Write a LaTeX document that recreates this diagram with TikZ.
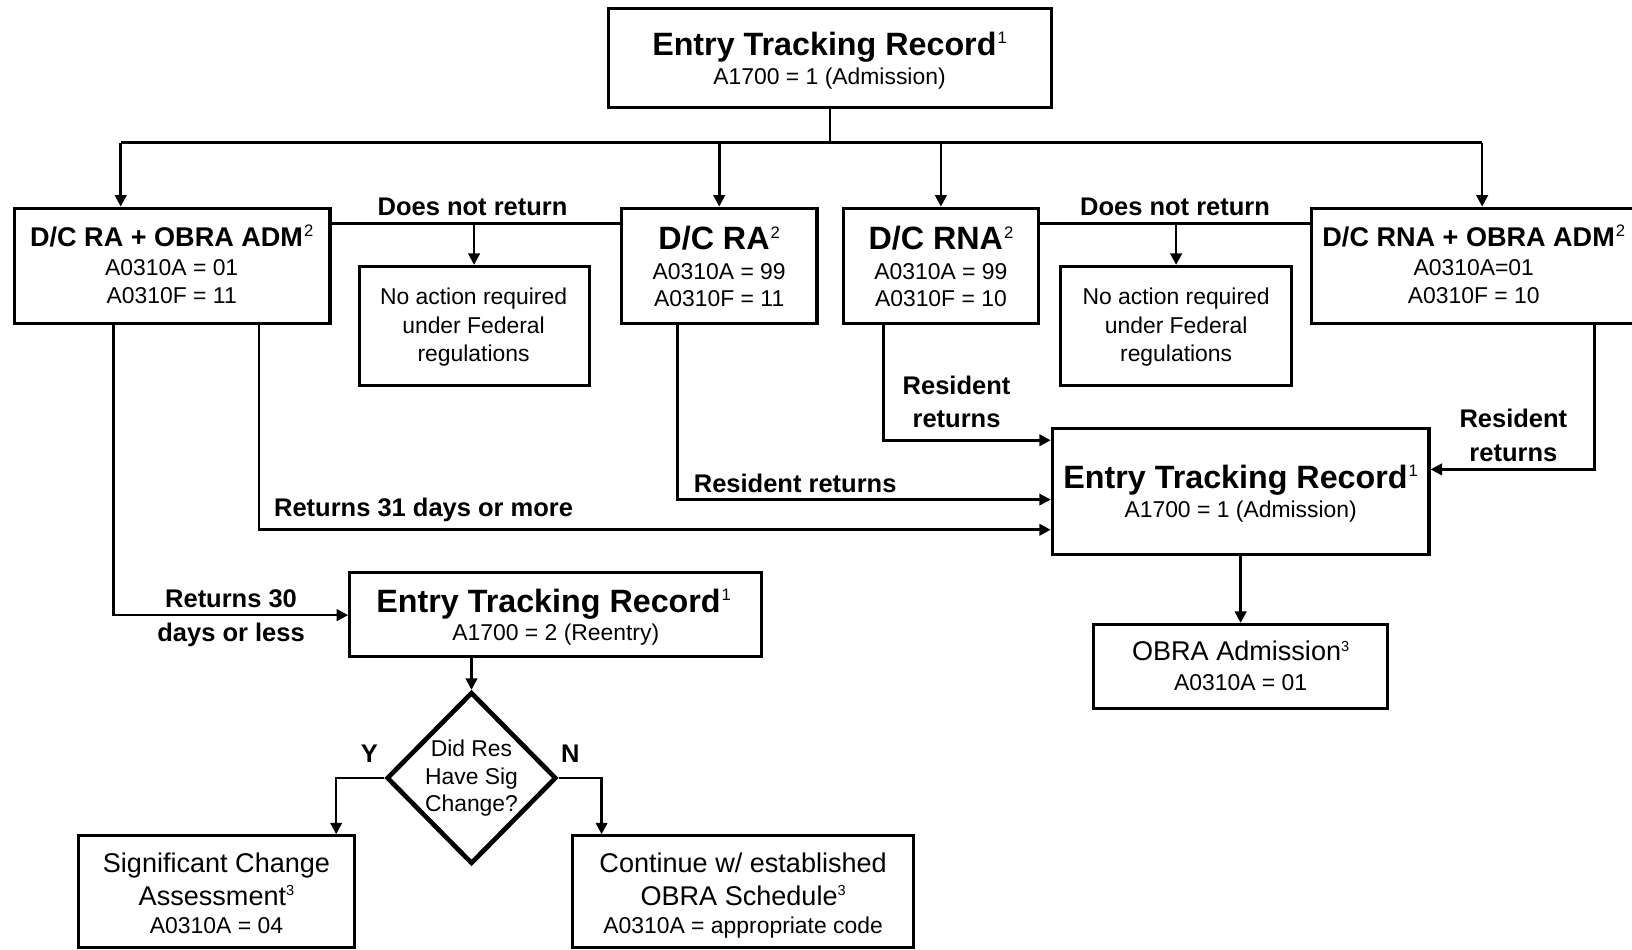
\documentclass[tikz,border=0pt]{standalone}
\usepackage{fontspec}
\setmainfont{Liberation Sans}
\usetikzlibrary{arrows.meta,shapes.geometric}
\newcommand\mysup[1]{\kern1pt\raisebox{0.36em}{\fontsize{16}{16}\selectfont\mdseries #1}}
\newcommand\mysupb[1]{\raisebox{0.36em}{\fontsize{14}{14}\selectfont\mdseries #1}}
\newcommand\fHa{\fontsize{31}{31}\selectfont\bfseries}
\newcommand\fHb{\fontsize{26}{26}\selectfont\bfseries}
\newcommand\fSm{\fontsize{22}{22}\selectfont}
\newcommand\fMd{\fontsize{22}{22}\selectfont}
\newcommand\fLg{\fontsize{26}{26}\selectfont}
\newcommand\fLab{\fontsize{24.5}{24.5}\selectfont\bfseries}
\begin{document}
\begin{tikzpicture}[x=1pt,y=-1pt,
  box/.style={draw, line width=3pt, inner sep=0pt, rectangle},
  txt/.style={anchor=base, inner sep=0pt, outer sep=0pt},
  conn/.style={line width=2.5pt},
  arr/.style={conn, -{Triangle[length=11pt,width=11pt]}}]
\useasboundingbox (0,0) rectangle (1568,912);
% boxes
\node[box, minimum width=425pt, minimum height=95pt] (T) at (797.5,55.5) {};
\node[box, minimum width=303pt, minimum height=111pt] (A) at (165.5,255.5) {};
\node[box, minimum width=188pt, minimum height=111pt] (B) at (691,255.5) {};
\node[box, minimum width=188pt, minimum height=111pt] (C) at (904,255.5) {};
\node[box, minimum width=314pt, minimum height=111pt] (D) at (1417,255.5) {};
\node[box, minimum width=221pt, minimum height=114pt] (N1) at (455.5,313) {};
\node[box, minimum width=222pt, minimum height=114pt] (N2) at (1130,313) {};
\node[box, minimum width=362pt, minimum height=121pt] (R) at (1192,472.5) {};
\node[box, minimum width=396pt, minimum height=81pt] (E) at (534,590.5) {};
\node[draw, diamond, line width=4.5pt, inner sep=0pt, minimum width=163pt, minimum height=165pt] (Dm) at (453,747.5) {};
\node[box, minimum width=266pt, minimum height=107pt] (S) at (208,856.5) {};
\node[box, minimum width=328pt, minimum height=107pt] (Cn) at (714,856.5) {};
\node[box, minimum width=282pt, minimum height=81pt] (O) at (1192,640.5) {};
% texts
\node[txt] (t1) at (797,53) {\fHa Entry Tracking Record\mysup{1}};
\node[txt] (t2) at (797,81.5) {\fSm A1700 = 1 (Admission)};
\node[txt] (a1) at (165,237) {\fHb D/C RA + OBRA ADM\mysup{2}};
\node[txt] (a2) at (165,264.5) {\fSm A0310A = 01};
\node[txt] (a3) at (165,291.5) {\fSm A0310F = 11};
\node[txt] (b1) at (691,240) {\fHa D/C RA\mysup{2}};
\node[txt] (b2) at (691,268.5) {\fSm A0310A = 99};
\node[txt] (b3) at (691,294.5) {\fSm A0310F = 11};
\node[txt] (c1) at (904,240) {\fHa D/C RNA\mysup{2}};
\node[txt] (c2) at (904,268.5) {\fSm A0310A = 99};
\node[txt] (c3) at (904,294.5) {\fSm A0310F = 10};
\node[txt] (d1) at (1416,237) {\fHb D/C RNA + OBRA ADM\mysup{2}};
\node[txt] (d2) at (1416,264.5) {\fSm A0310A=01};
\node[txt] (d3) at (1416,291.5) {\fSm A0310F = 10};
\node[txt] (n11) at (455,293) {\fMd No action required};
\node[txt] (n12) at (455,320) {\fMd under Federal};
\node[txt] (n13) at (455,347) {\fMd regulations};
\node[txt] (n21) at (1130,293) {\fMd No action required};
\node[txt] (n22) at (1130,320) {\fMd under Federal};
\node[txt] (n23) at (1130,347) {\fMd regulations};
\node[txt] (l1) at (454,207) {\fLab Does not return};
\node[txt] (l2) at (1129,207) {\fLab Does not return};
\node[txt] (r1) at (1192,469) {\fHa Entry Tracking Record\mysup{1}};
\node[txt] (r2) at (1192,497.5) {\fSm A1700 = 1 (Admission)};
\node[txt] (l3) at (919,379) {\fLab Resident};
\node[txt] (l4) at (919,411) {\fLab returns};
\node[txt] (l5) at (1454,411) {\fLab Resident};
\node[txt] (l6) at (1454,443) {\fLab returns};
\node[txt] (l7) at (764,473) {\fLab Resident returns};
\node[txt] (l8) at (407,496) {\fLab Returns 31 days or more};
\node[txt] (l9) at (222,584) {\fLab Returns 30};
\node[txt] (l10) at (222,616) {\fLab days or less};
\node[txt] (e1) at (532,588) {\fHa Entry Tracking Record\mysup{1}};
\node[txt] (e2) at (534,615) {\fSm A1700 = 2 (Reentry)};
\node[txt] (q1) at (453,727) {\fMd Did Res};
\node[txt] (q2) at (453,754) {\fMd Have Sig};
\node[txt] (q3) at (453,780) {\fMd Change?};
\node[txt] (ly) at (355,733) {\fLab Y};
\node[txt] (ln) at (548,733) {\fLab N};
\node[txt] (s1) at (208,838) {\fLg Significant Change};
\node[txt] (s2) at (208,870) {\fLg Assessment\mysupb{3}};
\node[txt] (s3) at (208,897) {\fSm A0310A = 04};
\node[txt] (k1) at (714,838) {\fLg Continue w/ established};
\node[txt] (k2) at (714,870) {\fLg OBRA Schedule\mysupb{3}};
\node[txt] (k3) at (714,897) {\fSm A0310A = appropriate code};
\node[txt] (o1) at (1192,635) {\fLg OBRA Admission\mysupb{3}};
\node[txt] (o2) at (1192,663) {\fSm A0310A = 01};
% connectors
\coordinate (busL) at (116,137);
\coordinate (busR) at (1424,137);
\draw[conn] (T.south) -- (T.south |- busL);
\draw[conn] (busL) -- (busR);
\draw[arr] (busL) -- (busL |- A.north);
\draw[arr] (B.north |- busL) -- (B.north);
\draw[arr] (C.north |- busL) -- (C.north);
\draw[arr] (busR) -- (busR |- D.north);
\coordinate (dn1) at (455.5,215);
\coordinate (dn2) at (1130,215);
\draw[conn] (dn1 -| A.east) -- (dn1 -| B.west);
\draw[arr] (dn1) -- (N1.north);
\draw[conn] (dn2 -| C.east) -- (dn2 -| D.west);
\draw[arr] (dn2) -- (N2.north);
\coordinate (pc) at (849,423);
\coordinate (pd) at (1532,451);
\coordinate (pb) at (651,480);
\coordinate (pa) at (249,509);
\coordinate (pe) at (109,591);
\draw[arr] (pc |- C.south) |- (R.west |- pc);
\draw[arr] (pd |- D.south) |- (R.east |- pd);
\draw[arr] (pb |- B.south) |- (R.west |- pb);
\draw[arr] (pa |- A.south) |- (R.west |- pa);
\draw[arr] (pe |- A.south) |- (E.west |- pe);
\draw[arr] (Dm.north |- E.south) -- (Dm.north);
\coordinate (py) at (323,747.5);
\coordinate (pn) at (578,747.5);
\draw[arr] (Dm.west) -| (py |- S.north);
\draw[arr] (Dm.east) -| (pn |- Cn.north);
\draw[arr] (R.south) -- (O.north);
\end{tikzpicture}
\end{document}
